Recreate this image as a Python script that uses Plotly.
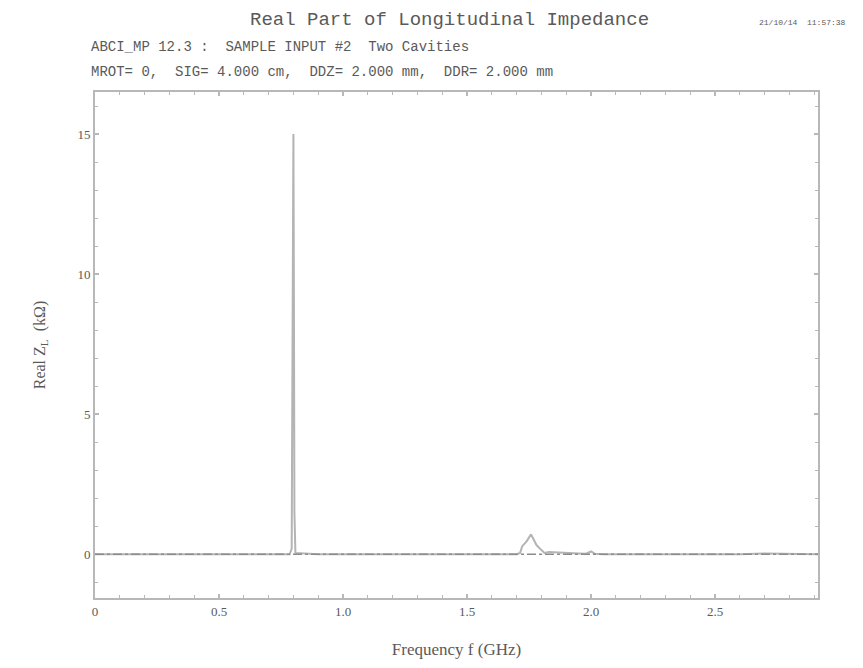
import plotly.graph_objects as go

# Frequency (GHz) and real part of longitudinal impedance (kOhm)
freq_ghz = [0.00, 0.20, 0.40, 0.60, 0.785, 0.793, 0.796, 0.798, 0.800, 0.802, 0.804, 0.808,
            0.90, 1.20, 1.50, 1.65, 1.700, 1.714, 1.722, 1.740, 1.758, 1.766, 1.780,
            1.800, 1.812, 1.830, 1.880, 1.920, 1.950, 1.980, 2.000, 2.015, 2.050,
            2.300, 2.600, 2.700, 2.920]
re_zl_kohm = [0.00, 0.00, 0.00, 0.00, 0.00, 0.20, 6.00, 13.50, 15.00, 9.00, 1.50, 0.05,
              0.00, 0.00, 0.00, 0.00, 0.00, 0.05, 0.28, 0.46, 0.71, 0.57, 0.33,
              0.15, 0.05, 0.08, 0.07, 0.06, 0.03, 0.02, 0.10, 0.02, 0.00,
              0.00, 0.00, 0.03, 0.00]

x_tickvals = [0, 0.5, 1.0, 1.5, 2.0, 2.5]
x_ticktext = ["0", "0.5", "1.0", "1.5", "2.0", "2.5"]
y_tickvals = [0, 5, 10, 15]
y_ticktext = ["0", "5", "10", "15"]

title_text = "Real Part of Longitudinal Impedance"
date_text = "21/10/14  11:57:38"
sub1 = "ABCI_MP 12.3 :  SAMPLE INPUT #2  Two Cavities"
sub2 = "MROT= 0,  SIG= 4.000 cm,  DDZ= 2.000 mm,  DDR= 2.000 mm"

FONT = "Liberation Serif"
MONO = "Liberation Mono"
TXT = "#5a5a5a"
AX = "#b8b8b8"

fig = go.Figure()
fig.add_trace(go.Scatter(x=freq_ghz, y=re_zl_kohm, mode="lines",
                         line=dict(color="#b4b4b4", width=2), showlegend=False,
                         hoverinfo="x+y"))

fig.add_shape(type="line", xref="x domain", yref="y", x0=0, x1=1, y0=0, y1=0,
              line=dict(color="#8c8c8c", width=1.5, dash="dashdot"), layer="above")

common_axis = dict(showgrid=False, zeroline=False, showline=True, linecolor=AX, linewidth=2,
                   mirror="ticks", ticks="inside", ticklen=4, tickcolor=AX, tickwidth=1.5,
                   tickfont=dict(family=FONT, size=13, color=TXT))

fig.update_layout(
    width=863, height=668,
    margin=dict(l=95, r=45, t=92, b=68),
    paper_bgcolor="white", plot_bgcolor="white",
    xaxis=dict(range=[0, 2.915], tickvals=x_tickvals, ticktext=x_ticktext,
               minor=dict(dtick=0.1, tick0=0, ticks="inside", ticklen=3, tickcolor=AX, tickwidth=1.2),
               title=dict(text="Frequency f (GHz)", font=dict(family=FONT, size=17, color=TXT), standoff=26),
               **common_axis),
    yaxis=dict(range=[-1.56, 16.5], tickvals=y_tickvals, ticktext=y_ticktext,
               minor=dict(dtick=1, tick0=0, ticks="inside", ticklen=3, tickcolor=AX, tickwidth=1.2),
               title=dict(text="Real Z<sub>L</sub>  (kΩ)", font=dict(family=FONT, size=16, color=TXT), standoff=28),
               **common_axis),
    annotations=[
        dict(text=title_text, xref="paper", yref="paper", x=0.49, y=1.0, yshift=72,
             showarrow=False, xanchor="center", yanchor="middle",
             font=dict(family=MONO, size=19, color=TXT)),
        dict(text=date_text, xref="paper", yref="paper", x=1.0, y=1.0, yshift=70, xshift=30,
             showarrow=False, xanchor="right", yanchor="middle",
             font=dict(family=MONO, size=8, color=TXT)),
        dict(text=sub1, xref="paper", yref="paper", x=0.0, y=1.0, yshift=45, xshift=-6,
             showarrow=False, xanchor="left", yanchor="middle",
             font=dict(family=MONO, size=14, color=TXT)),
        dict(text=sub2, xref="paper", yref="paper", x=0.0, y=1.0, yshift=20, xshift=-6,
             showarrow=False, xanchor="left", yanchor="middle",
             font=dict(family=MONO, size=14, color=TXT)),
    ],
)

fig.write_html("out.html")
